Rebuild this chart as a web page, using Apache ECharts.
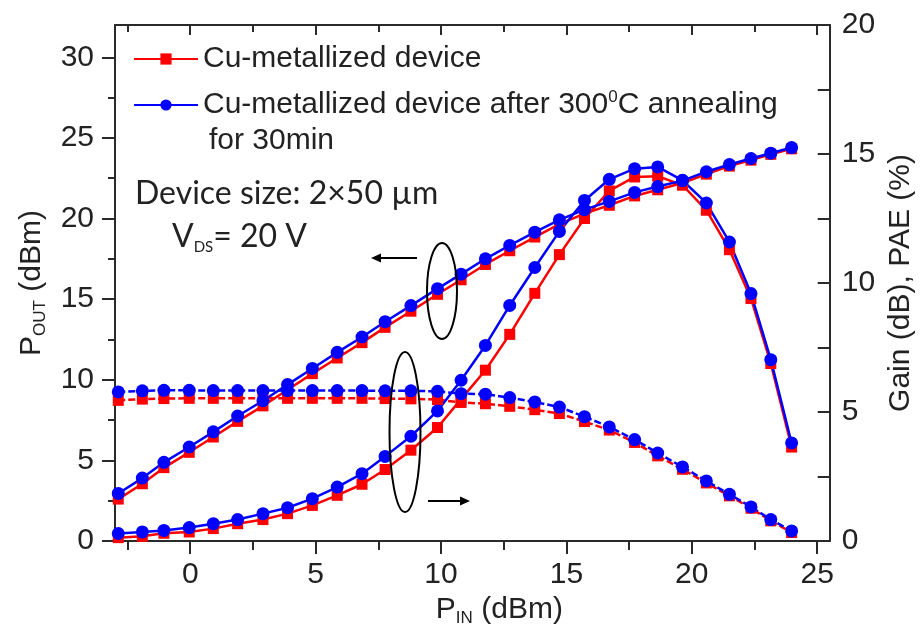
<!DOCTYPE html>
<html>
<head>
<meta charset="utf-8">
<script src="https://cdn.jsdelivr.net/npm/echarts@6/dist/echarts.min.js"></script>
<style>
  html, body { margin: 0; padding: 0; background: #fff; }
  #chart { width: 924px; height: 635px; }
</style>
</head>
<body>
<div id="chart"></div>
<script>
// Input power sweep (dBm)
const pin = [-2.87, -1.91, -1.05, -0.04, 0.92, 1.89, 2.90, 3.88, 4.87, 5.86, 6.85, 7.77, 8.80, 9.86,
             10.80, 11.77, 12.74, 13.74, 14.72, 15.72, 16.71, 17.72, 18.64, 19.63, 20.58, 21.50, 22.36, 23.15, 23.98];

// Output power (dBm)
const poutCu = [2.6, 3.55, 4.55, 5.5, 6.45, 7.42, 8.38, 9.38, 10.38, 11.35, 12.3, 13.25, 14.25, 15.3,
                16.2, 17.15, 18.0, 18.85, 19.65, 20.3, 20.82, 21.4, 21.78, 22.2, 22.75, 23.25, 23.62, 23.98, 24.32];
const poutAnnealed = [2.95, 3.9, 4.88, 5.83, 6.77, 7.75, 8.7, 9.7, 10.7, 11.7, 12.65, 13.6, 14.6, 15.65,
                      16.55, 17.5, 18.33, 19.15, 19.92, 20.55, 21.06, 21.62, 21.98, 22.35, 22.9, 23.35, 23.72, 24.05, 24.4];

// Gain (dB)
const gainCu = [5.45, 5.5, 5.52, 5.53, 5.53, 5.53, 5.53, 5.53, 5.53, 5.53, 5.53, 5.52, 5.51, 5.48,
                5.37, 5.32, 5.22, 5.09, 4.94, 4.63, 4.3, 3.82, 3.3, 2.78, 2.25, 1.75, 1.27, 0.78, 0.33];
const gainAnnealed = [5.78, 5.82, 5.84, 5.84, 5.83, 5.83, 5.83, 5.83, 5.83, 5.83, 5.83, 5.82, 5.82, 5.8,
                      5.71, 5.69, 5.56, 5.39, 5.19, 4.82, 4.42, 3.93, 3.41, 2.87, 2.33, 1.81, 1.32, 0.83, 0.39];

// Power-added efficiency (%)
const paeCu = [0.13, 0.18, 0.3, 0.35, 0.48, 0.67, 0.83, 1.06, 1.38, 1.77, 2.2, 2.77, 3.52, 4.4,
               5.5, 6.62, 8.01, 9.6, 11.1, 12.5, 13.57, 14.11, 14.14, 13.79, 12.82, 11.29, 9.4, 6.88, 3.64];
const paeAnnealed = [0.29, 0.35, 0.41, 0.52, 0.67, 0.83, 1.06, 1.29, 1.64, 2.09, 2.61, 3.28, 4.06, 5.04,
                     6.23, 7.58, 9.13, 10.6, 12.0, 13.2, 14.02, 14.43, 14.5, 13.98, 13.1, 11.59, 9.59, 7.03, 3.8];

// Axis tick values
const xMajor = [0, 5, 10, 15, 20, 25];
const xMinor = [-2.5, 2.5, 7.5, 12.5, 17.5, 22.5];
const yLeftMajor = [0, 5, 10, 15, 20, 25, 30];
const yLeftMinor = [2.5, 7.5, 12.5, 17.5, 22.5, 27.5];

const NAME_CU = 'Cu-metallized device';
const NAME_ANNEALED = 'Cu-metallized device after 300\u2070C annealing';

const FONT = '"Liberation Sans", Arial, sans-serif';
const NOTE_FONT = 'Lato, "Open Sans", sans-serif';
const FS = 30;
const INK = '#222';
const AXIS_INK = '#2a2a2a';
const RED = '#ff0000';
const BLUE = '#0000ff';

const pairs = (ys) => pin.map((x, i) => [x, ys[i]]);

function makeSeries(name, ys, color, symbol, size, yAxisIndex, dashed) {
  return {
    name: name,
    type: 'line',
    xAxisIndex: 0,
    yAxisIndex: yAxisIndex,
    data: pairs(ys),
    symbol: symbol,
    symbolSize: size,
    showSymbol: true,
    animation: false,
    itemStyle: { color: color },
    lineStyle: { color: color, width: 2.5, type: dashed ? [7, 3] : 'solid' },
    emphasis: { disabled: true }
  };
}

const chart = echarts.init(document.getElementById('chart'), null, { renderer: 'canvas' });

const tickStyle = { color: AXIS_INK, width: 2 };

chart.setOption({
  backgroundColor: '#fff',
  animation: false,
  grid: { left: 115, right: 88, top: 25, bottom: 94 },
  legend: {
    orient: 'vertical',
    left: 128,
    top: 38,
    itemWidth: 64,
    itemHeight: 14,
    itemGap: 14,
    selectedMode: false,
    data: [
      { name: NAME_CU },
      { name: NAME_ANNEALED }
    ],
    formatter: function (name) {
      return name === NAME_CU ? name : 'Cu-metallized device after 300{sup|0}C annealing';
    },
    textStyle: {
      fontFamily: FONT, fontSize: FS, color: INK, lineHeight: 32,
      rich: {
        sup: { fontFamily: FONT, fontSize: 17, color: INK, lineHeight: 14, verticalAlign: 'top' }
      }
    }
  },
  xAxis: [
    {
      type: 'value', min: -3, max: 25.5, position: 'bottom',
      axisLine: { show: true, onZero: false, lineStyle: tickStyle },
      axisTick: { show: true, inside: false, length: 13, customValues: xMajor, lineStyle: tickStyle },
      axisLabel: { show: true, customValues: xMajor, fontFamily: FONT, fontSize: FS, color: INK, margin: 19 },
      splitLine: { show: false },
      name: '{p|P}{s|IN}{p| (dBm)}',
      nameLocation: 'middle',
      nameGap: 52,
      nameTextStyle: {
        padding: [0, 0, 0, 54],
        rich: {
          p: { fontFamily: FONT, fontSize: FS, color: INK, lineHeight: 34 },
          s: { fontFamily: FONT, fontSize: 17, color: INK, lineHeight: 14, verticalAlign: 'bottom' }
        }
      }
    },
    {
      type: 'value', min: -3, max: 25.5, position: 'bottom',
      axisLine: { show: false, onZero: false },
      axisTick: { show: true, inside: false, length: 9, customValues: xMinor, lineStyle: tickStyle },
      axisLabel: { show: false },
      splitLine: { show: false }
    },
    {
      type: 'value', min: -3, max: 25.5, position: 'top',
      axisLine: { show: true, onZero: false, lineStyle: tickStyle },
      axisTick: { show: true, inside: true, length: 10, customValues: xMajor, lineStyle: tickStyle },
      axisLabel: { show: false },
      splitLine: { show: false }
    },
    {
      type: 'value', min: -3, max: 25.5, position: 'top',
      axisLine: { show: false, onZero: false },
      axisTick: { show: true, inside: true, length: 7, customValues: xMinor, lineStyle: tickStyle },
      axisLabel: { show: false },
      splitLine: { show: false }
    }
  ],
  yAxis: [
    {
      type: 'value', min: 0, max: 32, position: 'left',
      axisLine: { show: true, onZero: false, lineStyle: tickStyle },
      axisTick: { show: true, inside: false, length: 13, customValues: yLeftMajor, lineStyle: tickStyle },
      axisLabel: { show: true, customValues: yLeftMajor, fontFamily: FONT, fontSize: FS, color: INK, margin: 21 },
      splitLine: { show: false },
      name: '{p|P}{s|OUT}{p| (dBm)}',
      nameLocation: 'middle',
      nameRotate: 90,
      nameGap: 66,
      nameTextStyle: {
        rich: {
          p: { fontFamily: FONT, fontSize: FS, color: INK, lineHeight: 34 },
          s: { fontFamily: FONT, fontSize: 17, color: INK, lineHeight: 14, verticalAlign: 'bottom' }
        }
      }
    },
    {
      type: 'value', min: 0, max: 20, interval: 5, position: 'right',
      axisLine: { show: true, onZero: false, lineStyle: tickStyle },
      axisTick: { show: true, inside: true, length: 12, lineStyle: tickStyle },
      minorTick: { show: true, splitNumber: 2, length: 12, lineStyle: tickStyle },
      axisLabel: { show: true, fontFamily: FONT, fontSize: FS, color: INK, margin: 12 },
      splitLine: { show: false },
      minorSplitLine: { show: false },
      name: 'Gain (dB), PAE (%)',
      nameLocation: 'middle',
      nameRotate: 90,
      nameGap: 52,
      nameTextStyle: { fontFamily: FONT, fontSize: FS, color: INK }
    },
    {
      type: 'value', min: 0, max: 32, position: 'left',
      axisLine: { show: false, onZero: false },
      axisTick: { show: true, inside: false, length: 7, customValues: yLeftMinor, lineStyle: tickStyle },
      axisLabel: { show: false },
      splitLine: { show: false }
    }
  ],
  series: [
    makeSeries(NAME_CU, poutCu, RED, 'rect', 11, 0, false),
    makeSeries(NAME_CU, gainCu, RED, 'rect', 11, 1, true),
    makeSeries(NAME_CU, paeCu, RED, 'rect', 11, 1, false),
    makeSeries(NAME_ANNEALED, poutAnnealed, BLUE, 'circle', 13, 0, false),
    makeSeries(NAME_ANNEALED, gainAnnealed, BLUE, 'circle', 13, 1, true),
    makeSeries(NAME_ANNEALED, paeAnnealed, BLUE, 'circle', 13, 1, false)
  ],
  graphic: [
    {
      type: 'text', left: 209, top: 126,
      style: { text: 'for 30min', font: FS + 'px ' + FONT, fill: INK }
    },
    {
      type: 'text', left: 135, top: 178,
      style: { text: 'Device size: 2\u00d750 \u00b5m', font: '32px ' + NOTE_FONT, fill: INK }
    },
    {
      type: 'text', left: 172, top: 221,
      style: {
        text: '{v|V}{s|DS}{v|= 20 V}',
        rich: {
          v: { fontFamily: NOTE_FONT, fontSize: 32, fill: INK, lineHeight: 36 },
          s: { fontFamily: NOTE_FONT, fontSize: 15, fill: INK, lineHeight: 12, verticalAlign: 'bottom' }
        }
      }
    },
    {
      type: 'ellipse', shape: { cx: 442, cy: 291, rx: 15, ry: 48 },
      style: { fill: 'none', stroke: '#000', lineWidth: 2 }, z: 10
    },
    {
      type: 'ellipse', shape: { cx: 405, cy: 432, rx: 15.5, ry: 80 },
      style: { fill: 'none', stroke: '#000', lineWidth: 2 }, z: 10
    },
    {
      type: 'line', shape: { x1: 417, y1: 258, x2: 378, y2: 258 },
      style: { stroke: '#000', lineWidth: 2 }, z: 10
    },
    {
      type: 'polygon', shape: { points: [[371, 258], [381, 253.5], [381, 262.5]] },
      style: { fill: '#000' }, z: 10
    },
    {
      type: 'line', shape: { x1: 428, y1: 501, x2: 463, y2: 501 },
      style: { stroke: '#000', lineWidth: 2 }, z: 10
    },
    {
      type: 'polygon', shape: { points: [[470, 501], [460, 496.5], [460, 505.5]] },
      style: { fill: '#000' }, z: 10
    }
  ]
});
</script>
</body>
</html>
